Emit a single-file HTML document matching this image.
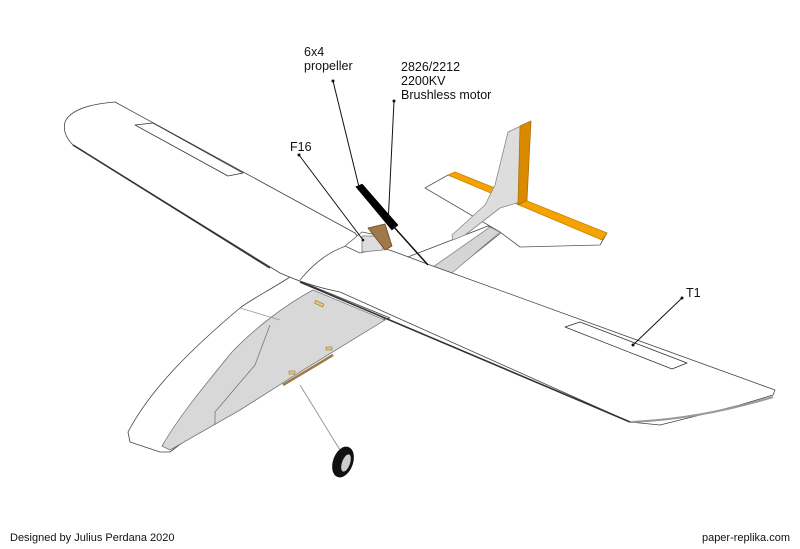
<!DOCTYPE html>
<html><head><meta charset="utf-8"><style>
html,body{margin:0;padding:0;background:#fff;width:800px;height:549px;overflow:hidden}
svg{display:block}
text{font-family:"Liberation Sans",Arial,sans-serif;font-size:12.5px;fill:#111}
</style></head><body>
<svg width="800" height="549" viewBox="0 0 800 549">
<g stroke="#444" stroke-width="0.8" fill="#fff" stroke-linejoin="round">
<!-- fuselage underside outline -->
<path d="M290,277 C270,290 250,300 240,308 C190,350 150,390 128,432 L130,442 L160,452 L170,452 L330,330 L390,318 Z"/>
<!-- gray underside panel -->
<path d="M313,290 L385,320 L300,372 L240,410 L170,450 L162,446 C180,415 205,385 232,352 C255,328 285,305 313,290 Z" fill="#d8d8d8" stroke="#777"/>
<path d="M270,325 L255,365 L215,412 L215,425" fill="none" stroke="#777"/>
<path d="M240,308 L280,320" fill="none" stroke="#999"/>
<!-- tail boom -->
<path d="M395,262 L488,226 L502,232 L452,272 L420,275 Z" fill="#fff"/>
<path d="M433,267 L490,227 L500,232 L452,273 Z" fill="#d5d5d5" stroke="#888"/>
<!-- horizontal stab -->
<path d="M425,188 L448,175 L607,233 L600,245 L520,247 L500,232 L425,188 Z" fill="#fff" stroke="#555"/>
<path d="M448,175 L455,172 L607,233 L602,240 Z" fill="#f5a300" stroke="#c88000"/>
<!-- vertical fin -->
<path d="M508,132 L523,125 L527,200 L500,208 L465,235 L453,240 L452,235 L485,205 L495,185 Z" fill="#ddd" stroke="#888"/>
<path d="M520,126 L531,121 L527,200 L518,205 Z" fill="#d98a00" stroke="#b07000"/>
<!-- main wing -->
<path d="M115,102 C90,104 70,110 65,122 C63,130 66,138 73,145 L280,273 C300,282 320,288 340,292 L630,422 L660,425 L700,415 L740,405 L773,395 L775,390 L430,265 L395,252 L360,240 L355,233 Z" fill="#fff" stroke="#444"/>
<path d="M73,145 L270,268 M300,282 L630,422" fill="none" stroke="#333" stroke-width="1.6"/>
<path d="M630,422 C680,420 730,410 773,397" fill="none" stroke="#999" stroke-width="2"/>
<!-- fuselage top hump -->
<path d="M300,280 C315,262 330,250 355,243" fill="none" stroke="#555"/>
<!-- ailerons -->
<path d="M135,125 L153,123 L243,173 L228,176 Z" fill="none" stroke="#333"/>
<path d="M565,327 L580,322 L687,363 L672,369 Z" fill="none" stroke="#333"/>
<!-- F16 plate -->
<path d="M345,246 L362,232 L382,236 L382,248 L360,253 Z" fill="#fff" stroke="#555"/>
<path d="M362,236 L382,236 L383,250 L362,252 Z" fill="#ddd" stroke="#777"/>
<!-- motor mount -->
<path d="M368,228 L385,224 L392,246 L385,250 Z" fill="#a0784a" stroke="#6a4a20"/>
</g>
<!-- propeller -->
<path d="M357,187 L362,185 L397,225 L392,229 Z" fill="#000" stroke="#000" stroke-width="2"/>
<!-- leader lines -->
<g stroke="#111" stroke-width="1" fill="none">
<line x1="333" y1="81" x2="359" y2="187"/>
<line x1="394" y1="101" x2="388" y2="225"/>
<line x1="299" y1="155" x2="363" y2="240"/>
<line x1="682" y1="298" x2="633" y2="345"/>
<line x1="393" y1="226" x2="428" y2="265" stroke-width="1.5"/>
</g>
<g fill="#111"><circle cx="333" cy="81" r="1.5"/><circle cx="394" cy="101" r="1.5"/><circle cx="299" cy="155" r="1.5"/><circle cx="682" cy="298" r="1.5"/><circle cx="633" cy="345" r="1.5"/><circle cx="363" cy="240" r="1.3"/></g>
<!-- gear -->
<line x1="300" y1="385" x2="340" y2="450" stroke="#999" stroke-width="1"/>
<line x1="283" y1="385" x2="333" y2="355" stroke="#a0784a" stroke-width="2.5"/>
<g fill="#e8c870" stroke="#9a7a30" stroke-width="0.6">
<rect x="315" y="302" width="9" height="3" transform="rotate(25 319 303)"/>
<rect x="326" y="347" width="6" height="3"/>
<rect x="289" y="371" width="6" height="3"/>
</g>
<ellipse cx="343" cy="462" rx="10" ry="16" fill="#111" transform="rotate(20 343 462)"/>
<ellipse cx="346" cy="463" rx="4" ry="9" fill="#ccc" transform="rotate(20 346 463)"/>
<!-- labels -->
<text x="304" y="56">6x4</text>
<text x="304" y="70">propeller</text>
<text x="401" y="71">2826/2212</text>
<text x="401" y="85">2200KV</text>
<text x="401" y="99">Brushless motor</text>
<text x="290" y="151">F16</text>
<text x="686" y="297">T1</text>
<text x="10" y="541" style="font-size:11px">Designed by Julius Perdana 2020</text>
<text x="790" y="541" text-anchor="end" style="font-size:11px">paper-replika.com</text>
</svg>
</body></html>
